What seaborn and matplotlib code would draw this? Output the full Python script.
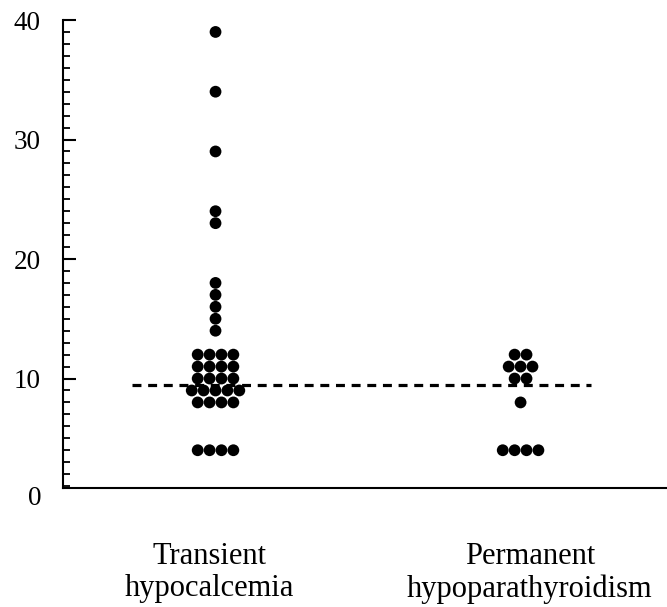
import numpy as np
import pandas as pd
import seaborn as sns
import matplotlib.pyplot as plt
from matplotlib.ticker import MultipleLocator

# values
groups = ["Transient\nhypocalcemia", "Permanent\nhypoparathyroidism"]
transient = [39, 34, 29, 24, 23, 18, 17, 16, 15, 14,
             12, 12, 12, 12, 11, 11, 11, 11, 10, 10, 10, 10,
             9, 9, 9, 9, 9, 8, 8, 8, 8, 4, 4, 4, 4]
permanent = [12, 12, 11, 11, 11, 10, 10, 8, 4, 4, 4, 4]
mean_line = 9.5
yticks = [0, 10, 20, 30, 40]

sns.set_style("ticks")
plt.rcParams['font.family'] = ['Liberation Serif', 'DejaVu Serif']
plt.rcParams['text.color'] = 'black'
plt.rcParams['xtick.color'] = 'black'
plt.rcParams['ytick.color'] = 'black'
plt.rcParams['axes.edgecolor'] = 'black'

# dot plot layout: equal values sit side by side, centred on the group
step = 0.039
rows = []
for gi, vals in enumerate([transient, permanent]):
    s = pd.Series(vals)
    for v, n in s.value_counts().items():
        for k in range(n):
            rows.append({"x": gi + (k - (n - 1) / 2) * step, "y": v})
df = pd.DataFrame(rows)

fig = plt.figure(figsize=(6.67, 6.07), dpi=100)
ax = fig.add_axes([63 / 667, 119 / 607, 604 / 667, 468 / 607])

sns.scatterplot(data=df, x="x", y="y", color="black", s=72,
                edgecolor="none", ax=ax, legend=False)
ax.hlines(mean_line, -0.275, 1.23, colors="black", linewidth=2.3,
          linestyles=(0, (2.8, 2.1)))

ax.set_xlim(-0.5, 1.48)
ax.set_ylim(0.84, 40)
ax.set_xticks([-0.02, 1.03])
ax.set_xticklabels(groups, fontsize=22, linespacing=1.15)
ax.tick_params(axis="x", length=0, pad=39, labelcolor="black")
ax.set_yticks(yticks[1:])
ax.yaxis.set_minor_locator(MultipleLocator(1))
ax.tick_params(axis="y", which="major", direction="in", length=9,
               width=1.5, labelsize=19.5, pad=16, labelcolor="black")
ax.tick_params(axis="y", which="minor", direction="in", length=5, width=1.3)
# the 0 label sits just under the bottom of the axis
ax.text(-0.035, 0, "0", transform=ax.get_yaxis_transform(),
        ha="right", va="center", fontsize=19.5, color="black")
ax.set_xlabel("")
ax.set_ylabel("")
sns.despine(ax=ax)
for sp in ["left", "bottom"]:
    ax.spines[sp].set_linewidth(1.5)
    ax.spines[sp].set_color("black")

fig.savefig("out.png", dpi=100)
